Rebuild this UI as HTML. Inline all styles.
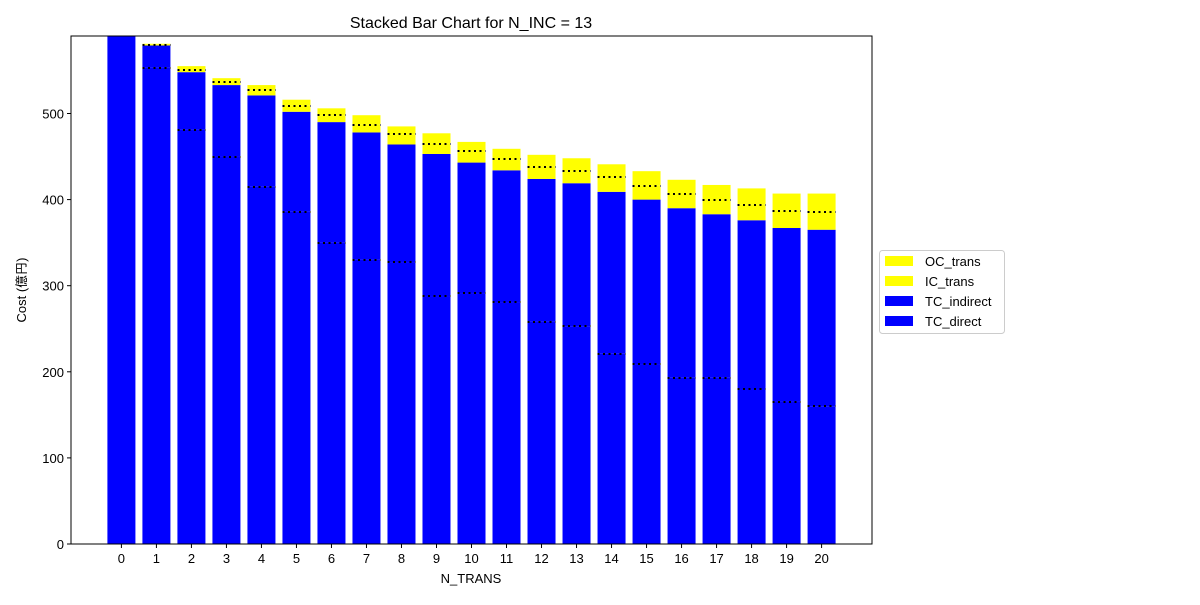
<!DOCTYPE html>
<html><head><meta charset="utf-8"><style>
body{margin:0;background:#fff}
svg text{font-family:"Liberation Sans","IPAGothic","Noto Sans CJK JP",sans-serif;fill:#000}
</style></head><body>
<svg id="chart" width="1200" height="600" xmlns="http://www.w3.org/2000/svg"></svg>
<script>
const categories=[0,1,2,3,4,5,6,7,8,9,10,11,12,13,14,15,16,17,18,19,20];
const tcDirect=[590,553,481,450,415,386,350,330,327,288,291,281,258,253,221,209,193,193,180,165,160];
const tcIndirect=[0,26,67,83,106,116,140,148,137,165,152,153,166,166,188,191,197,190,196,202,205];
const icTrans=[0,1,3,4,6,7,8,9,12,12,13,13,14,14,17,16,17,17,18,20,21];
const ocTrans=[0,1,4,4,6,7,8,11,9,12,11,12,14,15,15,17,16,17,19,20,21];
const yTicks=[0,100,200,300,400,500];
const legendLabels=["OC_trans","IC_trans","TC_indirect","TC_direct"];
const legendColors=["#ffff00","#ffff00","#0000ff","#0000ff"];

const NS="http://www.w3.org/2000/svg";
const svg=document.getElementById('chart');
const L=71,R=872,T=36,B=544,yMax=590,xMin=-1.44,xMax=21.44;
const xs=v=>L+(v-xMin)/(xMax-xMin)*(R-L);
const ys=v=>B-v/yMax*(B-T);
function mk(tag,a){const e=document.createElementNS(NS,tag);for(const k in a)e.setAttribute(k,a[k]);svg.appendChild(e);return e;}
const bw=0.8*(R-L)/(xMax-xMin);
categories.forEach((c,i)=>{
  const segs=[[tcDirect[i],'#0000ff'],[tcIndirect[i],'#0000ff'],[icTrans[i],'#ffff00'],[ocTrans[i],'#ffff00']];
  let base=0;
  segs.forEach((s,j)=>{
    const r=mk('rect',{x:xs(c)-bw/2,y:ys(base+s[0]),width:bw,height:Math.max(0,ys(base)-ys(base+s[0])),fill:s[1]});
    
    
    base+=s[0];
  });
  if(i>0){
    [tcDirect[i],tcDirect[i]+tcIndirect[i]+icTrans[i]].forEach((v,k)=>{
      const yy=Math.round(ys(v));
      const l=mk('line',{x1:xs(c)-bw/2,x2:xs(c)+bw/2,y1:yy,y2:yy,stroke:'#000','stroke-width':2,'stroke-dasharray':'2,3.5','shape-rendering':'crispEdges'});
      
      
    });
  }
});
const frame=mk('rect',{x:L,y:T,width:R-L,height:B-T,fill:'none',stroke:'#000','stroke-width':1});


categories.forEach(c=>{
  const t=mk('line',{x1:xs(c),x2:xs(c),y1:B,y2:B+4,stroke:'#000'});
  
  
  const tx=mk('text',{x:xs(c),y:B+19,'text-anchor':'middle','font-size':13});
  tx.textContent=c;
  
  
});
yTicks.forEach(v=>{
  const t=mk('line',{x1:L-4,x2:L,y1:ys(v),y2:ys(v),stroke:'#000'});
  
  
  const tx=mk('text',{x:L-7,y:ys(v)+5,'text-anchor':'end','font-size':13});
  tx.textContent=v;
  
  
});
let e=mk('text',{x:471,y:28,'text-anchor':'middle','font-size':16});e.textContent='Stacked Bar Chart for N_INC = 13';


e=mk('text',{x:471,y:583,'text-anchor':'middle','font-size':13});e.textContent='N_TRANS';


e=mk('text',{x:26,y:290,'text-anchor':'middle','font-size':13,transform:'rotate(-90 26 290)'});e.textContent='Cost (億円)';


e=mk('rect',{x:879.5,y:250.5,width:125,height:83,rx:3,fill:'#fff',stroke:'#ccc'});


legendLabels.forEach((lab,i)=>{
  const y=256+i*20;
  const p=mk('rect',{x:885,y:y,width:28,height:10,fill:legendColors[i]});
  
  
  const t=mk('text',{x:925,y:y+10,'font-size':13});t.textContent=lab;
  
  
});
</script>
</body></html>
